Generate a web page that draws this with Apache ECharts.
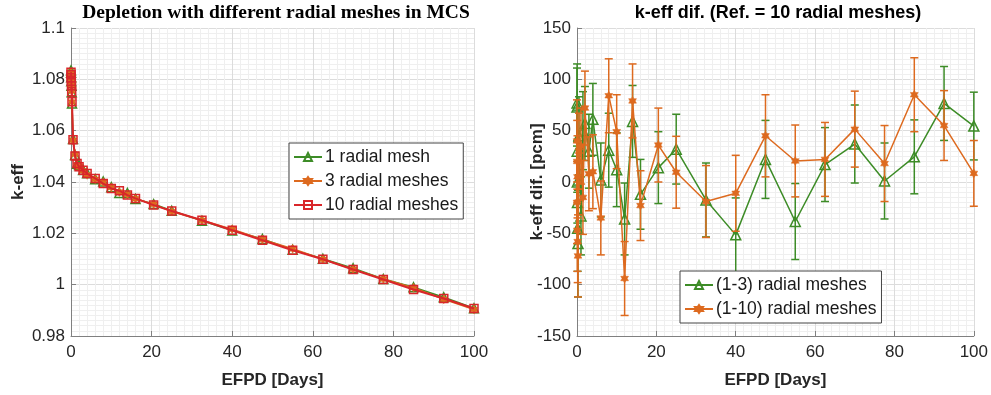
<!DOCTYPE html>
<html><head><meta charset="utf-8">
<script src="https://cdn.jsdelivr.net/npm/echarts@6/dist/echarts.min.js"></script>
<style>html,body{margin:0;padding:0;background:#fff}#c{width:991px;height:395px}</style>
</head><body><div id="c"></div><script>
// ---- data ----
const days = [0, 0.02, 0.05, 0.08, 0.12, 0.17, 0.25, 0.5, 1, 1.5, 2, 3, 4, 6, 8, 10, 12, 14, 16, 20.5, 25, 32.5, 40, 47.5, 55, 62.5, 70, 77.5, 85, 92.5, 100];
const keff1  = [1.0835, 1.0826, 1.0808, 1.0793, 1.0775, 1.0750, 1.0706, 1.0568, 1.0505, 1.0471, 1.0466, 1.0447, 1.0434, 1.0411, 1.0402, 1.0380, 1.0357, 1.0357, 1.0334, 1.0314, 1.0288, 1.0249, 1.0211, 1.0178, 1.0136, 1.0101, 1.0064, 1.0022, 0.9990, 0.9951, 0.9908];
const keff3  = [1.0828, 1.0818, 1.0805, 1.0793, 1.0777, 1.0755, 1.0712, 1.0563, 1.0508, 1.0466, 1.0460, 1.0444, 1.0428, 1.0411, 1.0399, 1.0379, 1.0361, 1.0351, 1.0335, 1.0313, 1.0285, 1.0251, 1.0216, 1.0176, 1.0140, 1.0099, 1.0060, 1.0022, 0.9988, 0.9943, 0.9903];
const keff10 = [1.0828, 1.0818, 1.0806, 1.0793, 1.0775, 1.0752, 1.0713, 1.0565, 1.0501, 1.0472, 1.0459, 1.0446, 1.0433, 1.0414, 1.0394, 1.0375, 1.0366, 1.0349, 1.0336, 1.0310, 1.0287, 1.0251, 1.0212, 1.0173, 1.0134, 1.0099, 1.0059, 1.0020, 0.9981, 0.9946, 0.9907];
const dif13  = [73, 77, 30, 0, -20, -45, -60, 45, -33, 50, 57, 30, 61, 2, 31, 12, -36, 59, -12, 14, 32, -17.5, -51.5, 22, -38.5, 17, 37, 1, 24.5, 76.5, 54.5];
const err13  = [38, 38, 40, 40, 40, 42, 52, 38, 38, 38, 36, 36, 35, 36, 36, 36, 35, 35, 34, 35, 34, 36, 36, 38, 37, 36, 38, 37, 36, 36, 33];
const dif110 = [40, -20, 20, -47, 5, -58, -72, 30, 35, -15, 72, 8, 10, -35, 84, 49, -94, 79, -23, 36, 9.5, -19, -11, 45, 20.5, 22, 51.5, 18, 85, 55, 8.4];
const err110 = [40, 40, 40, 40, 40, 40, 40, 37, 37, 36, 36, 36, 36, 36, 36, 36, 36, 36, 34, 36, 35, 35, 37, 40, 35, 36, 37, 37, 36, 34, 32];
const namesLeft = ['1 radial mesh', '3 radial meshes', '10 radial meshes'];
const namesRight = ['(1-3) radial meshes', '(1-10) radial meshes'];

// ---- style ----
const GREEN = '#3d8c27', ORANGE = '#dd6a1f', RED = '#d9262a';
const HEX = 'path://M100,0 L128.87,50 L186.6,50 L157.74,100 L186.6,150 L128.87,150 L100,200 L71.13,150 L13.4,150 L42.26,100 L13.4,50 L71.13,50 Z';
const FONT = 'Liberation Sans';

function xAx(gi) {
  return {
    type: 'value', gridIndex: gi, min: 0, max: 100, interval: 20,
    name: 'EFPD [Days]', nameLocation: 'middle', nameGap: 36, nameMoveOverlap: false,
    nameTextStyle: {fontFamily: FONT, fontWeight: 'bold', fontSize: 17, color: '#262626'},
    axisLine: {show: true, onZero: false, lineStyle: {color: '#808080', width: 1}},
    axisTick: {show: true, inside: true, length: 5, lineStyle: {color: '#808080'}},
    axisLabel: {fontFamily: FONT, fontSize: 17, color: '#262626', margin: 8, showMinLabel: true, showMaxLabel: true},
    splitLine: {show: true, lineStyle: {color: '#dcdcdc', width: 1}},
    minorTick: {show: false, splitNumber: 10},
    minorSplitLine: {show: true, lineStyle: {color: '#efefef', width: 1}}
  };
}
function yAx(gi, min, max, interval, name, gap, fmt) {
  return {
    type: 'value', gridIndex: gi, min: min, max: max, interval: interval,
    name: name, nameLocation: 'middle', nameGap: gap, nameMoveOverlap: false,
    nameTextStyle: {fontFamily: FONT, fontWeight: 'bold', fontSize: 17, color: '#262626'},
    axisLine: {show: true, onZero: false, lineStyle: {color: '#808080', width: 1}},
    axisTick: {show: true, inside: true, length: 5, lineStyle: {color: '#808080'}},
    axisLabel: {fontFamily: FONT, fontSize: 17, color: '#262626', margin: 6, formatter: fmt, showMinLabel: true, showMaxLabel: true},
    splitLine: {show: true, lineStyle: {color: '#dcdcdc', width: 1}},
    minorTick: {show: false, splitNumber: 10},
    minorSplitLine: {show: true, lineStyle: {color: '#efefef', width: 1}}
  };
}
function pairs(ys) { return days.map((d, i) => [d, ys[i]]); }
function triples(ys, es) { return days.map((d, i) => [d, ys[i], es[i]]); }
function errRender(color) {
  return function (params, api) {
    const x = api.value(0), y = api.value(1), e = api.value(2);
    const t = api.coord([x, y + e]), b = api.coord([x, y - e]);
    const hw = 4;
    const st = {stroke: color, lineWidth: 1.5};
    return {type: 'group', children: [
      {type: 'line', shape: {x1: t[0], y1: t[1], x2: b[0], y2: b[1]}, style: st},
      {type: 'line', shape: {x1: t[0] - hw, y1: t[1], x2: t[0] + hw, y2: t[1]}, style: st},
      {type: 'line', shape: {x1: b[0] - hw, y1: b[1], x2: b[0] + hw, y2: b[1]}, style: st}
    ]};
  };
}
const legendBase = {
  orient: 'vertical', itemWidth: 28, itemHeight: 10, itemGap: 6,
  padding: [5, 5, 5, 4], borderColor: '#444', borderWidth: 1, borderRadius: 0,
  backgroundColor: '#fff',
  textStyle: {fontFamily: FONT, fontSize: 17.5, color: '#1a1a1a', padding: [0, 0, 0, -2]}
};

const chart = echarts.init(document.getElementById('c'), null, {renderer: 'canvas'});
chart.setOption({
  animation: false,
  backgroundColor: '#ffffff',
  title: [
    {text: 'Depletion with different radial meshes in MCS', left: 276, top: 3, textAlign: 'center', padding: 0,
      textStyle: {fontFamily: 'Liberation Serif', fontWeight: 'bold', fontSize: 19.5, color: '#000'}},
    {text: 'k-eff dif. (Ref. = 10 radial meshes)', left: 778, top: 4, textAlign: 'center', padding: 0,
      textStyle: {fontFamily: FONT, fontWeight: 'bold', fontSize: 18, color: '#000'}}
  ],
  grid: [
    {left: 71, right: 517, top: 28, bottom: 59},
    {left: 577, right: 14, top: 28, bottom: 59}
  ],
  xAxis: [xAx(0), xAx(1)],
  yAxis: [
    yAx(0, 0.98, 1.1, 0.02, 'k-eff', 44, v => String(+v.toFixed(2))),
    yAx(1, -150, 150, 50, 'k-eff dif. [pcm]', 31, v => String(Math.round(v)))
  ],
  legend: [
    Object.assign({}, legendBase, {data: namesLeft, left: 289, top: 143}),
    Object.assign({}, legendBase, {data: namesRight, left: 680, top: 271})
  ],
  series: [
    {name: namesLeft[0], type: 'line', xAxisIndex: 0, yAxisIndex: 0, data: pairs(keff1),
      symbol: 'triangle', symbolSize: 9, showAllSymbol: true,
      lineStyle: {color: GREEN, width: 1.5}, itemStyle: {color: 'rgba(255,255,255,0)', borderColor: GREEN, borderWidth: 1.5}, z: 2},
    {name: namesLeft[1], type: 'line', xAxisIndex: 0, yAxisIndex: 0, data: pairs(keff3),
      symbol: HEX, symbolKeepAspect: true, symbolSize: 9, showAllSymbol: true,
      lineStyle: {color: ORANGE, width: 1.5}, itemStyle: {color: ORANGE, borderColor: ORANGE, borderWidth: 0.5}, z: 3},
    {name: namesLeft[2], type: 'line', xAxisIndex: 0, yAxisIndex: 0, data: pairs(keff10),
      symbol: 'rect', symbolSize: 8, showAllSymbol: true,
      lineStyle: {color: RED, width: 2}, itemStyle: {color: 'rgba(255,255,255,0)', borderColor: RED, borderWidth: 1.5}, z: 4},
    {type: 'custom', xAxisIndex: 1, yAxisIndex: 1, data: triples(dif13, err13), renderItem: errRender(GREEN),
      encode: {x: 0, y: [1]}, z: 2, silent: true},
    {name: namesRight[0], type: 'line', xAxisIndex: 1, yAxisIndex: 1, data: pairs(dif13),
      symbol: 'triangle', symbolSize: 10, showAllSymbol: true,
      lineStyle: {color: GREEN, width: 1.5}, itemStyle: {color: 'rgba(255,255,255,0)', borderColor: GREEN, borderWidth: 1.5}, z: 3},
    {type: 'custom', xAxisIndex: 1, yAxisIndex: 1, data: triples(dif110, err110), renderItem: errRender(ORANGE),
      encode: {x: 0, y: [1]}, z: 4, silent: true},
    {name: namesRight[1], type: 'line', xAxisIndex: 1, yAxisIndex: 1, data: pairs(dif110),
      symbol: HEX, symbolKeepAspect: true, symbolSize: 9, showAllSymbol: true,
      lineStyle: {color: ORANGE, width: 1.5}, itemStyle: {color: ORANGE, borderColor: ORANGE, borderWidth: 0.5}, z: 5}
  ]
});
</script></body></html>
